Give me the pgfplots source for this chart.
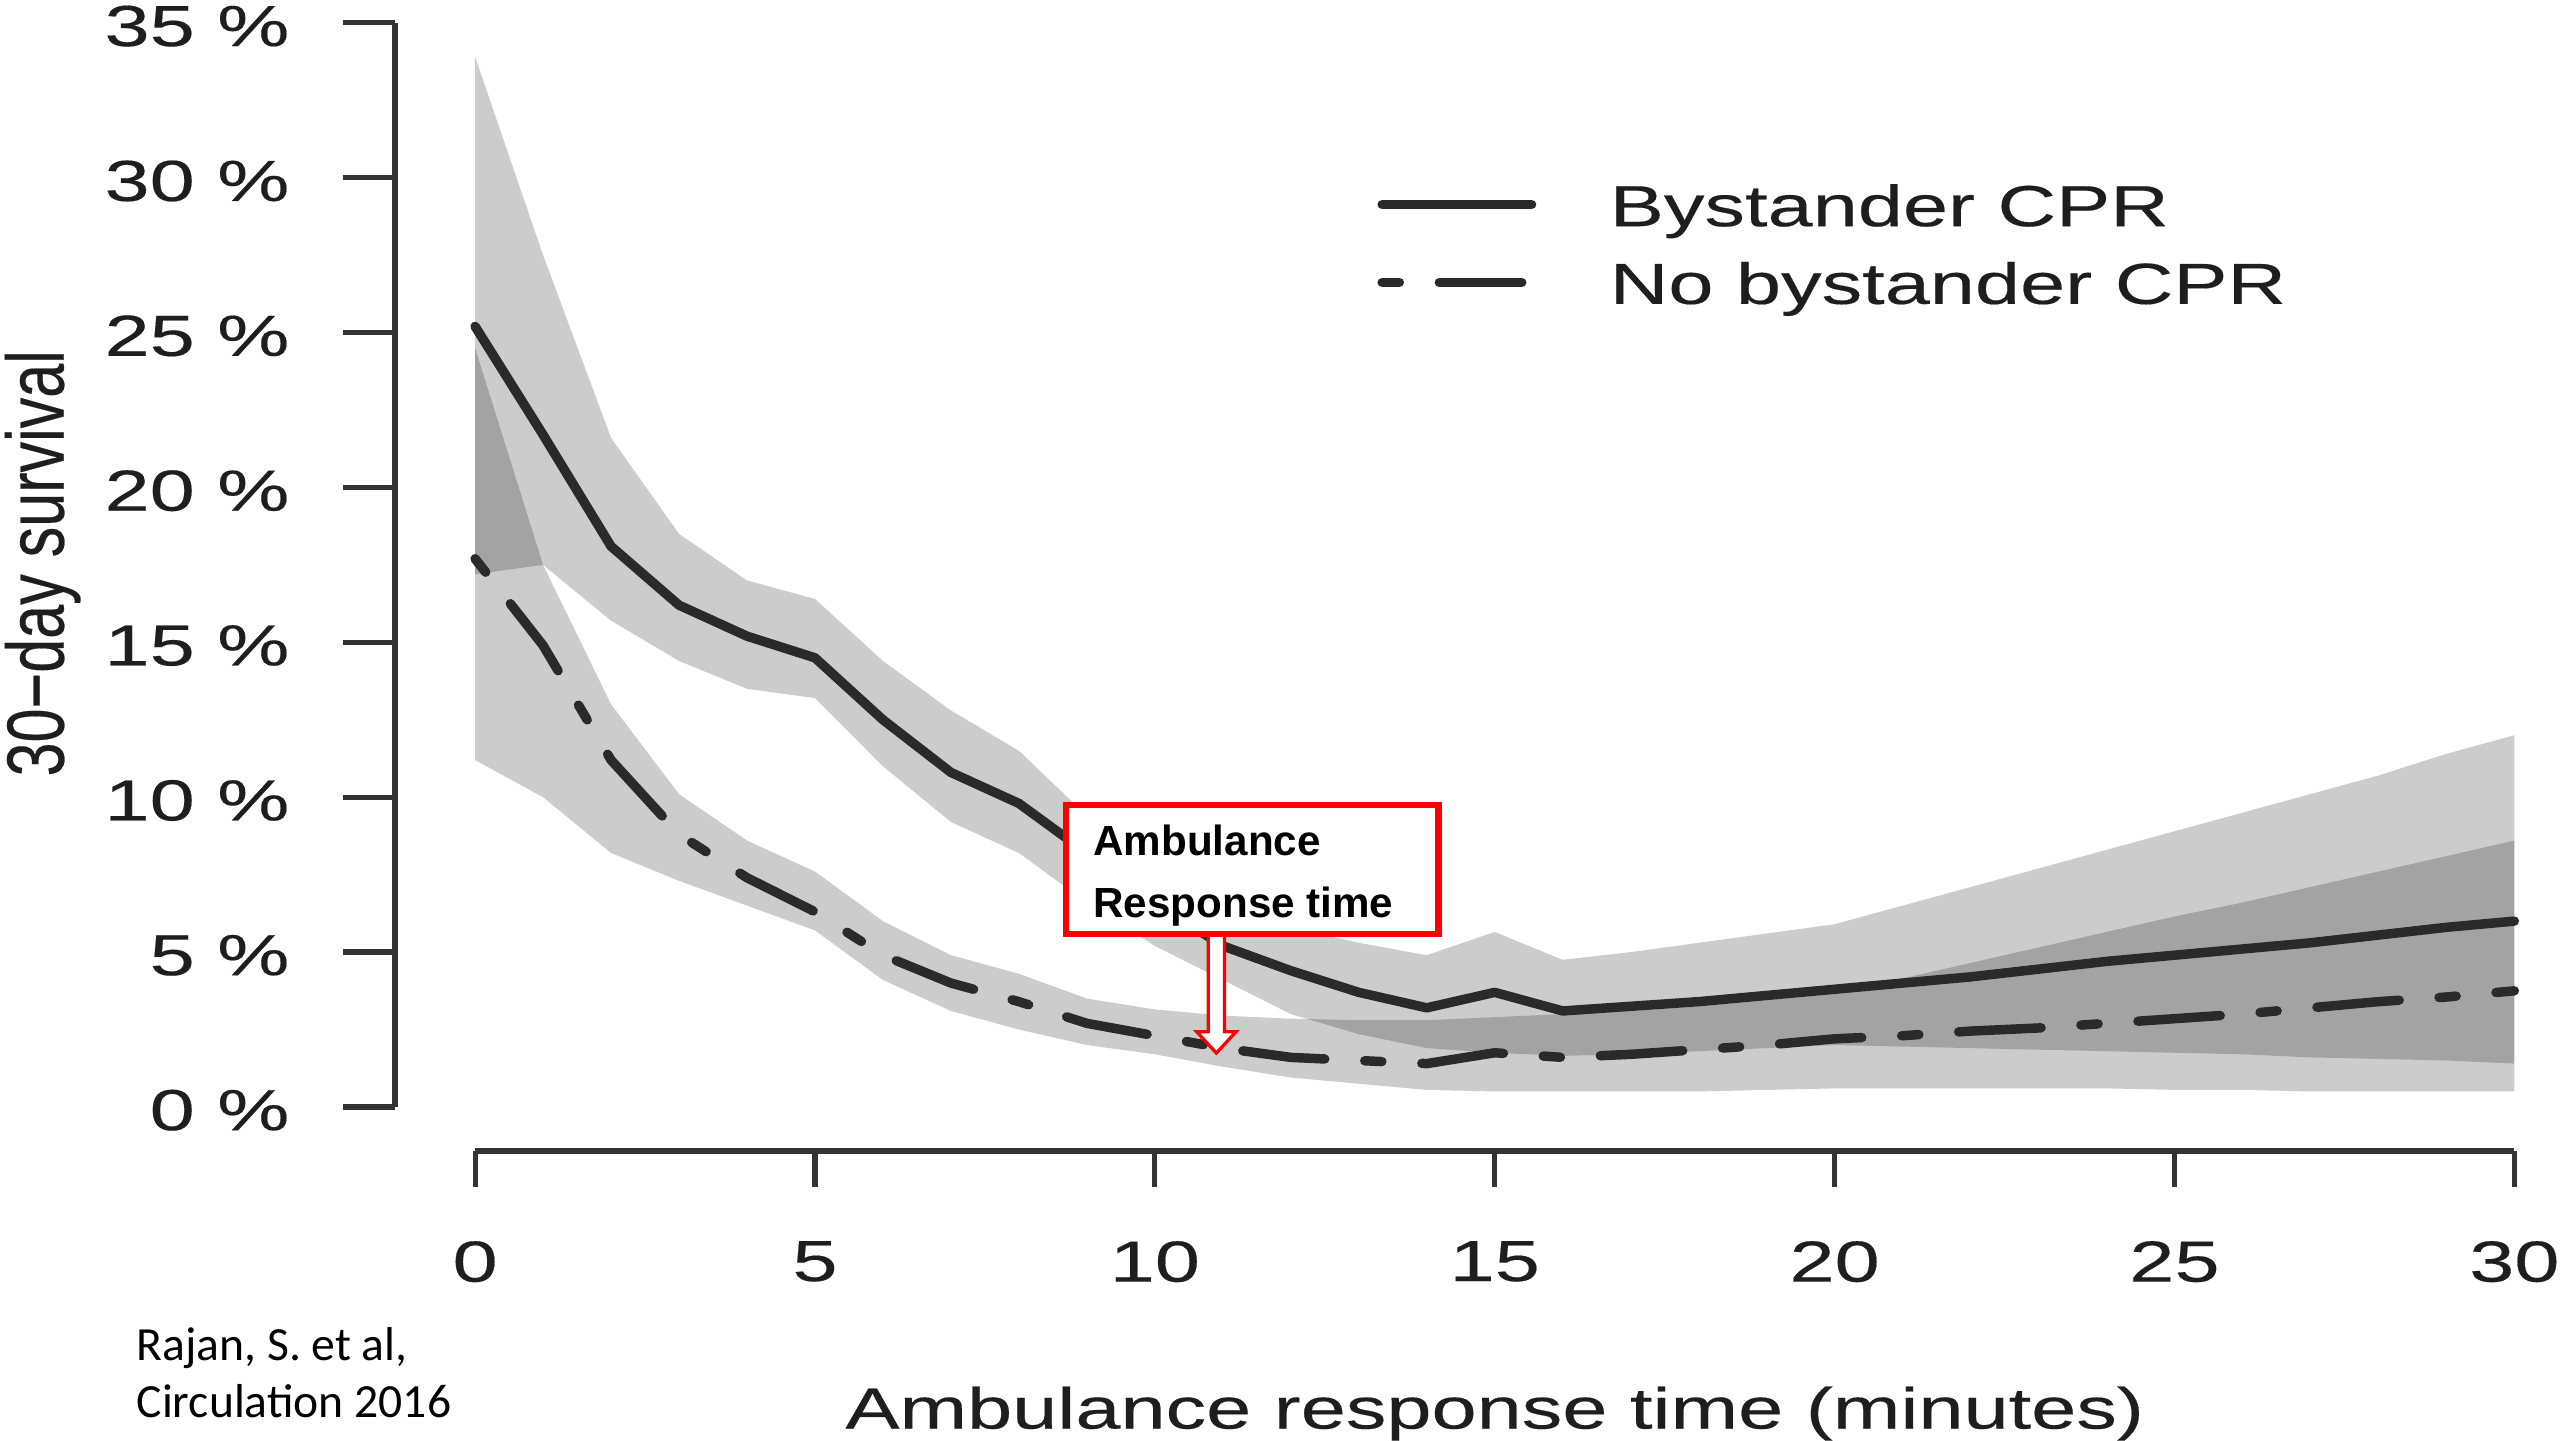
\documentclass[border=0pt]{standalone}
\usepackage{pgfplots}
\pgfplotsset{compat=1.18}
\usepackage{pgfplotstable}
\usepgfplotslibrary{fillbetween}
\usepackage{graphicx}
\usepackage{fontspec}
\setmainfont[FakeStretch=1.4, FakeBold=0.3]{Liberation Sans}
\newfontfamily\plainsans{Liberation Sans}
\newfontfamily\ylabfont[FakeBold=0.3]{Liberation Sans}
\newfontfamily\citefont{Carlito}
\definecolor{ink}{HTML}{1E1E1E}
\definecolor{linec}{HTML}{2A2A2A}
\definecolor{axc}{HTML}{333333}
\definecolor{boxred}{HTML}{FF0000}

\pgfplotstableread{
x by blo bhi nb nlo nhi
0 25.2 17.2 33.9 17.7 11.2 24.5
1 21.7 17.5 27.5 14.9 10.0 17.5
2 18.1 15.7 21.6 11.2 8.2 13.0
3 16.2 14.4 18.5 8.8 7.3 10.1
4 15.2 13.5 17.0 7.4 6.5 8.6
5 14.5 13.2 16.4 6.3 5.7 7.6
6 12.5 11.0 14.4 4.9 4.1 6.0
7 10.8 9.2 12.8 4.0 3.1 4.9
8 9.8 8.2 11.5 3.4 2.5 4.3
9 8.2 6.6 9.4 2.7 2.0 3.5
10 6.6 5.2 7.9 2.3 1.7 3.15
11 5.2 4.1 6.6 1.9 1.3 2.95
12 4.4 3.0 5.8 1.6 0.95 2.85
13 3.7 2.35 5.3 1.5 0.75 2.8
14 3.2 1.9 4.9 1.4 0.55 2.8
15 3.7 1.75 5.65 1.75 0.5 2.9
16 3.1 1.65 4.75 1.6 0.5 3.0
17 3.25 1.7 5.0 1.7 0.5 3.1
18 3.4 1.8 5.3 1.85 0.5 3.25
19 3.6 1.9 5.6 2.0 0.55 3.45
20 3.8 2.0 5.9 2.2 0.6 3.65
21 4.0 1.95 6.5 2.3 0.6 4.15
22 4.2 1.9 7.1 2.45 0.6 4.65
23 4.45 1.85 7.7 2.55 0.6 5.15
24 4.7 1.8 8.3 2.7 0.6 5.65
25 4.9 1.75 8.9 2.85 0.55 6.15
26 5.1 1.7 9.5 3.0 0.55 6.6
27 5.3 1.6 10.1 3.2 0.5 7.1
28 5.55 1.55 10.7 3.4 0.5 7.6
29 5.8 1.5 11.4 3.55 0.5 8.1
30 6.0 1.4 12.0 3.75 0.5 8.6
}\survdata

\begin{document}
\begin{tikzpicture}
\begin{axis}[
  at={(2.42cm,1.77cm)}, anchor=south west,
  scale only axis, width=12.98cm, height=6.91cm,
  xmin=-1.177, xmax=30, ymin=-1.423, ymax=35,
  clip=false,
  axis lines*=left, axis line style={draw=none},
  xtick={0,5,10,15,20,25,30},
  xticklabels={0,5,10,15,20,25,30},
  ytick={0,5,10,15,20,25,30,35},
  yticklabels={0 \%,5 \%,10 \%,15 \%,20 \%,25 \%,30 \%,35 \%},
  major tick length=0pt, tick style={draw=none},
  tick label style={font=\fontsize{10.1}{12}\selectfont, text=ink, inner sep=0pt},
  xticklabel style={anchor=north, yshift=-0.545cm},
  yticklabel style={anchor=east, xshift=-0.64cm, yshift=-0.02cm},
  xlabel={Ambulance response time (minutes)},
  xlabel style={at={(axis description cs:0.5189,-0.2460)}, anchor=base, font=\fontsize{10.1}{12}\selectfont, text=ink, inner sep=0pt},
  ylabel={\ylabfont\scalebox{1}[1.33]{30−day survival}},
  ylabel style={at={(axis description cs:-0.1564,0.521)}, anchor=base, font=\fontsize{10.65}{12}\selectfont, text=ink, inner sep=0pt},
  legend style={draw=none, fill=none, at={(axis description cs:0.463,0.8580)}, anchor=north west, inner sep=0pt, row sep=0.166cm, column sep=0.45cm, nodes={inner sep=0pt, text=ink}, font=\fontsize{10.1}{12}\selectfont},
  legend cell align=left,
  legend image code/.code={\draw[#1] (0.0275cm,0.03cm) -- (0.9425cm,0.03cm);},
]
\addplot[draw=none, name path=bhi, forget plot] table[x=x,y=bhi]{\survdata};
\addplot[draw=none, name path=blo, forget plot] table[x=x,y=blo]{\survdata};
\addplot[draw=none, name path=nhi, forget plot] table[x=x,y=nhi]{\survdata};
\addplot[draw=none, name path=nlo, forget plot] table[x=x,y=nlo]{\survdata};
\addplot[fill=black, fill opacity=0.2, draw=none, forget plot] fill between[of=bhi and blo];
\addplot[fill=black, fill opacity=0.2, draw=none, forget plot] fill between[of=nhi and nlo];
\addplot[linec, line width=0.058cm, line join=round, line cap=round] table[x=x,y=by]{\survdata};
\addlegendentry{Bystander CPR}
\addplot[linec, line width=0.058cm, line join=round, line cap=round, dash pattern=on 0.105cm off 0.245cm on 0.505cm off 0.245cm] table[x=x,y=nb]{\survdata};
\addlegendentry{No bystander CPR}
\draw[axc, line width=0.032cm] (axis cs:-1.177,0) -- (axis cs:-1.177,35);
\draw[axc, line width=0.032cm] (axis cs:0,-1.423) -- (axis cs:30,-1.423);
\pgfplotsinvokeforeach{0,5,10,15,20,25,30}{\draw[axc, line width=0.032cm] (axis cs:#1,-1.423) -- ++(0pt,-0.22cm);}
\pgfplotsinvokeforeach{0,5,10,15,20,25,30,35}{\draw[axc, line width=0.032cm] (axis cs:-1.177,#1) -- ++(-0.32cm,0pt);}
\end{axis}
\draw[boxred, line width=0.02cm, fill=white] (7.40,3.10) -- (7.40,2.50) -- (7.33,2.50) -- (7.45,2.37) -- (7.57,2.50) -- (7.50,2.50) -- (7.50,3.10);
\draw[boxred, line width=0.04cm, fill=white] (6.53,3.89) rectangle (8.81,3.10);
\node[anchor=base west, inner sep=0pt, font=\plainsans\bfseries\fontsize{7.35}{9}\selectfont] at (6.69,3.58) {Ambulance};
\node[anchor=base west, inner sep=0pt, font=\plainsans\bfseries\fontsize{7.35}{9}\selectfont] at (6.69,3.20) {Response time};
\node[anchor=base west, inner sep=0pt, font=\citefont\fontsize{8.3}{10}\selectfont] at (0.83,0.49) {Rajan, S. et al,};
\node[anchor=base west, inner sep=0pt, font=\citefont\fontsize{8.3}{10}\selectfont] at (0.83,0.14) {Circulation 2016};
\pgfresetboundingbox
\useasboundingbox (0,0) rectangle (15.68,8.82);
\end{tikzpicture}
\end{document}
